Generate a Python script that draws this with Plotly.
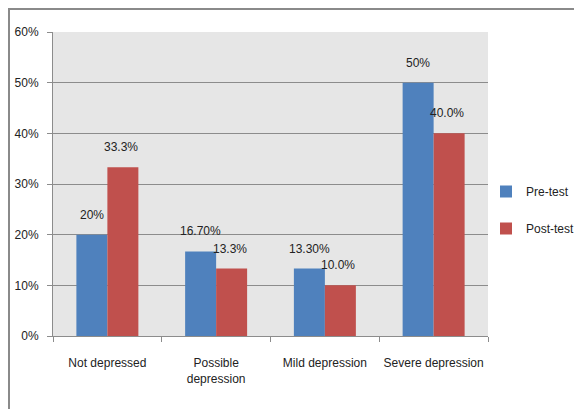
import plotly.graph_objects as go

categories = ["Not depressed", "Possible<br>depression", "Mild depression", "Severe depression"]
pre_test = [0.20, 0.167, 0.133, 0.50]
post_test = [0.333, 0.133, 0.100, 0.400]
pre_labels = ["20%", "16.70%", "13.30%", "50%"]
post_labels = ["33.3%", "13.3%", "10.0%", "40.0%"]
y_ticks = [0, 0.1, 0.2, 0.3, 0.4, 0.5, 0.6]

FONT = "Liberation Sans, Arial, sans-serif"
BLUE = "#4F81BD"
RED = "#C0504D"
TXT = "#222222"

# page body has an 8px margin, so the figure is sized to fit the window
W, H = 574, 401
L, R, T, B = 45, 94, 24, 73
pw, ph = W - L - R, H - T - B

def px_x(p):
    return (p - L) / pw

def px_y(p):
    return (H - B - p) / ph

fig = go.Figure()
fig.add_trace(go.Bar(x=categories, y=pre_test, name="Pre-test",
                     marker=dict(color=BLUE, line=dict(width=0)), legendgroup="a"))
fig.add_trace(go.Bar(x=categories, y=post_test, name="Post-test",
                     marker=dict(color=RED, line=dict(width=0)), legendgroup="b"))

half = pw / 4 * 0.57 / 4
for c, v, t in zip(categories, pre_test, pre_labels):
    fig.add_annotation(x=c, y=v, text=t, showarrow=False, xshift=-half, yshift=20,
                       font=dict(family=FONT, size=12, color=TXT))
for c, v, t in zip(categories, post_test, post_labels):
    fig.add_annotation(x=c, y=v, text=t, showarrow=False, xshift=half - 2, yshift=20,
                       font=dict(family=FONT, size=12, color=TXT))

fig.add_shape(type="rect", xref="paper", yref="paper",
              x0=px_x(1), x1=px_x(620), y0=px_y(460), y1=px_y(1),
              line=dict(color="#8a8a8a", width=2), fillcolor="rgba(0,0,0,0)", layer="below")

fig.update_layout(
    width=W, height=H,
    margin=dict(l=L, r=R, t=T, b=B, pad=0, autoexpand=False),
    paper_bgcolor="white",
    plot_bgcolor="#e6e6e6",
    barmode="group",
    bargap=0.43,
    bargroupgap=0,
    font=dict(family=FONT, size=12, color=TXT),
    showlegend=True,
    legend=dict(x=px_x(478), y=px_y(202), xanchor="left", yanchor="middle",
                traceorder="grouped", tracegroupgap=18,
                font=dict(family=FONT, size=12, color=TXT),
                bgcolor="rgba(0,0,0,0)", itemwidth=30),
    xaxis=dict(
        type="category",
        automargin=False,
        tickangle=0,
        showgrid=False,
        showline=True, linecolor="#8c8c8c", linewidth=1,
        ticks="outside", tickson="boundaries", ticklen=5, tickcolor="#8c8c8c",
        tickfont=dict(family=FONT, size=12, color=TXT),
        ticklabelstandoff=16,
    ),
    yaxis=dict(
        automargin=False,
        range=[0, 0.6],
        tickvals=y_ticks,
        tickformat=".0%",
        showgrid=True, gridcolor="#8c8c8c", gridwidth=1,
        showline=True, linecolor="#8c8c8c", linewidth=1,
        ticks="outside", ticklen=5, tickcolor="#8c8c8c",
        tickfont=dict(family=FONT, size=12, color=TXT),
        ticklabelstandoff=6,
        zeroline=False,
    ),
)

fig.write_html("out.html")
